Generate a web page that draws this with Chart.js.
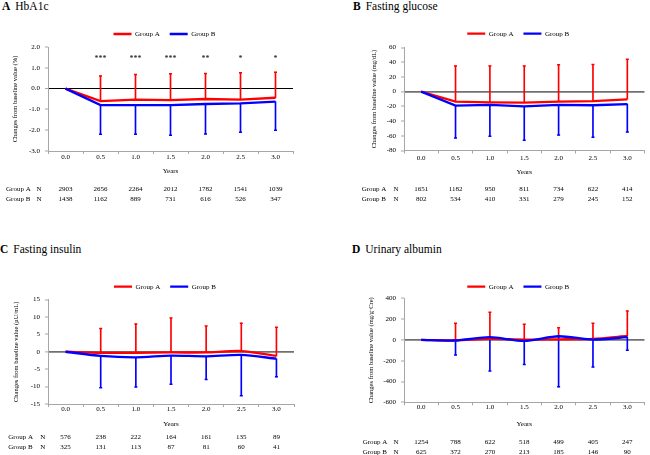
<!DOCTYPE html>
<html>
<head>
<meta charset="utf-8">
<script src="https://cdn.jsdelivr.net/npm/chart.js@4.4.0/dist/chart.umd.min.js"></script>
<style>
  body { margin:0; width:650px; height:455px; background:#fff; position:relative; overflow:hidden; font-family:"Liberation Serif", serif; }
  canvas { position:absolute; }
  .ttl { position:absolute; font-size:11.5px; line-height:12px; white-space:nowrap; color:#000; }
  .ttl b { margin-right:5px; }
</style>
</head>
<body>
<div class="ttl" style="left:2px;top:0px"><b>A</b>HbA1c</div>
<div class="ttl" style="left:353px;top:0px"><b>B</b>Fasting glucose</div>
<div class="ttl" style="left:0px;top:243px"><b>C</b>Fasting insulin</div>
<div class="ttl" style="left:352px;top:243px"><b>D</b>Urinary albumin</div>

<canvas id="chartA" width="325" height="225" style="left:0;top:0"></canvas>
<canvas id="chartB" width="325" height="225" style="left:325px;top:0"></canvas>
<canvas id="chartC" width="325" height="230" style="left:0;top:225px"></canvas>
<canvas id="chartD" width="325" height="230" style="left:325px;top:225px"></canvas>

<script>
const years = ['0.0', '0.5', '1.0', '1.5', '2.0', '2.5', '3.0'];

// A HbA1c (%)
const hba1cMeanA = [0, -0.60, -0.53, -0.55, -0.50, -0.53, -0.44];
const hba1cUpperA = [null, 0.61, 0.68, 0.71, 0.73, 0.76, 0.79];
const hba1cMeanB = [0, -0.79, -0.79, -0.79, -0.74, -0.71, -0.63];
const hba1cLowerB = [null, -2.19, -2.19, -2.24, -2.18, -2.10, -2.00];
const hba1cStars = ['', '***', '***', '***', '**', '*', '*'];
const hba1cNA = [2903, 2656, 2264, 2012, 1782, 1541, 1039];
const hba1cNB = [1438, 1162, 889, 731, 616, 526, 347];

// B Fasting glucose (mg/dL)
const glucMeanA = [0, -13.5, -14.5, -15, -13.5, -13, -10.4];
const glucUpperA = [null, 35, 35, 35, 36.5, 37, 44];
const glucMeanB = [0, -19, -18, -20, -18, -18.5, -17];
const glucLowerB = [null, -63, -60.5, -66, -59, -62, -55];
const glucNA = [1651, 1182, 950, 811, 734, 622, 414];
const glucNB = [802, 534, 410, 331, 279, 245, 152];

// C Fasting insulin (µU/mL)
const insMeanA = [0, -0.3, -0.3, -0.2, -0.2, 0.2, -1.2];
const insUpperA = [null, 6.7, 8.0, 9.7, 7.4, 8.2, 7.0];
const insMeanB = [0, -1.2, -1.6, -1.1, -1.3, -0.9, -2.0];
const insLowerB = [null, -10.3, -10.1, -9.3, -8.0, -12.6, -7.2];
const insNA = [576, 238, 222, 164, 161, 135, 89];
const insNB = [325, 131, 113, 87, 81, 60, 41];

// D Urinary albumin (mg/g·Cre)
const albMeanA = [0, -6, 10, 3, 6, 10, 38];
const albUpperA = [null, 160, 265, 150, 118, 160, 278];
const albMeanB = [0, -6, 26, -10, 35, 3, 26];
const albLowerB = [null, -144, -298, -237, -451, -260, -100];
const albNA = [1254, 788, 622, 518, 499, 405, 247];
const albNB = [625, 372, 270, 213, 185, 146, 90];

const RED = '#ff0000';
const BLUE = '#0000ff';
const AXIS = '#a6a6a6';
const SERIF = '"Liberation Serif", "Times New Roman", serif';

// legenda com altura fixa e um pouco deslocada para a esquerda
function legendFix(altura) {
    return {
        id: 'legendFix',
        beforeInit(chart) {
            const fit = chart.legend.fit;
            chart.legend.fit = function () {
                fit.call(this);
                this.height = altura;
            };
        },
        afterLayout(chart) {
            chart.legend.left -= 6;
            chart.legend.right -= 6;
        }
    };
}

// tabela de N abaixo do eixo x e asteriscos
const tabelaN = {
    id: 'tabelaN',
    afterDraw(chart, args, opts) {
        const ctx = chart.ctx;
        const x = chart.scales.x;
        const y = chart.scales.y;
        ctx.save();
        ctx.fillStyle = '#000';
        ctx.textBaseline = 'middle';
        ctx.font = '7px ' + SERIF;
        opts.rows.forEach((row) => {
            ctx.textAlign = 'left';
            ctx.fillText(row.name, opts.nameX, row.y);
            ctx.textAlign = 'center';
            ctx.fillText('N', opts.nX, row.y);
            row.values.forEach((v, i) => {
                ctx.fillText(String(v), x.getPixelForValue(i), row.y);
            });
        });
        if (opts.stars) {
            ctx.font = '8px ' + SERIF;
            ctx.textAlign = 'center';
            opts.stars.forEach((s, i) => {
                if (s) ctx.fillText(s, x.getPixelForValue(i), y.getPixelForValue(opts.starsAt) + 2);
            });
        }
        ctx.restore();
    }
};

function criarPainel(id, cfg) {
    const W = cfg.w, H = cfg.h;
    const padTop = cfg.legendY - 13.5;
    const padLeft = cfg.yTitleX - 3.9;
    const xHeight = cfg.yearsY - cfg.area.b + 4.2;

    const datasets = [
        {
            type: 'line', label: 'Group A', data: cfg.meanA,
            borderColor: RED, backgroundColor: RED, borderWidth: 2.3,
            pointRadius: 0, tension: cfg.tension, order: 2
        },
        {
            type: 'line', label: 'Group B', data: cfg.meanB,
            borderColor: BLUE, backgroundColor: BLUE, borderWidth: 2.3,
            pointRadius: 0, tension: cfg.tension, order: 1
        },
        {
            type: 'bar', label: '',
            data: cfg.meanA.map((m, i) => cfg.upperA[i] == null ? null : [m, cfg.upperA[i]]),
            backgroundColor: RED, borderWidth: 0, barThickness: 1, grouped: false, order: 4
        },
        {
            type: 'bar', label: '',
            data: cfg.meanB.map((m, i) => cfg.lowerB[i] == null ? null : [cfg.lowerB[i], m]),
            backgroundColor: BLUE, borderWidth: 0, barThickness: 1, grouped: false, order: 3
        },
        {
            type: 'line', label: '', data: cfg.upperA, showLine: false,
            pointStyle: 'line', pointRadius: 1.5, pointBorderWidth: 1.5,
            borderColor: RED, backgroundColor: RED, order: 4
        },
        {
            type: 'line', label: '', data: cfg.lowerB, showLine: false,
            pointStyle: 'line', pointRadius: 1.5, pointBorderWidth: 1.5,
            borderColor: BLUE, backgroundColor: BLUE, order: 3
        }
    ];

    new Chart(document.getElementById(id), {
        type: 'bar',
        data: { labels: years, datasets: datasets },
        plugins: [legendFix(cfg.area.t - padTop), tabelaN],
        options: {
            responsive: false,
            animation: false,
            events: [],
            layout: {
                padding: {
                    top: padTop,
                    left: padLeft,
                    right: W - cfg.area.r,
                    bottom: H - cfg.area.b - xHeight
                }
            },
            plugins: {
                tooltip: { enabled: false },
                legend: {
                    display: true,
                    position: 'top',
                    fullSize: false,
                    labels: {
                        usePointStyle: true,
                        pointStyle: 'line',
                        pointStyleWidth: 18,
                        padding: 10,
                        color: '#000',
                        font: { family: SERIF, size: 7 },
                        filter: (item) => item.text !== '',
                        sort: (a, b) => a.datasetIndex - b.datasetIndex
                    }
                },
                tabelaN: {
                    rows: [
                        { name: 'Group A', y: cfg.rowA, values: cfg.nA },
                        { name: 'Group B', y: cfg.rowB, values: cfg.nB }
                    ],
                    nameX: cfg.nameX,
                    nX: cfg.nX,
                    stars: cfg.stars || null,
                    starsAt: cfg.starsAt || 0
                }
            },
            scales: {
                x: {
                    type: 'category',
                    offset: true,
                    afterFit: (s) => { s.height = xHeight; },
                    grid: { display: true, drawOnChartArea: false, offset: true, tickLength: 3, color: AXIS },
                    border: { color: AXIS, width: 1 },
                    ticks: {
                        color: '#000', padding: cfg.area.xLab - cfg.area.b - 7.2,
                        maxRotation: 0, autoSkip: false,
                        font: { family: SERIF, size: 7 }
                    },
                    title: { display: true, text: 'Years', color: '#000', padding: 0, font: { family: SERIF, size: 7 } }
                },
                y: {
                    min: cfg.yMin,
                    max: cfg.yMax,
                    afterFit: (s) => { s.width = cfg.area.l - padLeft; },
                    grid: {
                        color: (c) => (c.tick && c.tick.value === 0) ? cfg.zeroColor : 'rgba(0,0,0,0)',
                        lineWidth: (c) => (c.tick && c.tick.value === 0) ? cfg.zeroWidth : 0,
                        tickColor: AXIS,
                        tickWidth: 1,
                        tickLength: 3
                    },
                    border: { color: AXIS, width: 1 },
                    ticks: {
                        stepSize: cfg.yStep,
                        color: '#000',
                        padding: 5,
                        font: { family: SERIF, size: 7 },
                        callback: (v) => cfg.dec ? Number(v).toFixed(1) : v
                    },
                    title: { display: true, text: cfg.yTitle, color: '#000', padding: 0, font: { family: SERIF, size: 6.5 } }
                }
            }
        }
    });
}

criarPainel('chartA', {
    w: 325, h: 225,
    area: { l: 48, r: 293, t: 47, b: 151, xLab: 157.5 },
    legendY: 34, yTitleX: 15, yearsY: 171,
    rowA: 189, rowB: 199.5, nameX: 6, nX: 39,
    meanA: hba1cMeanA, upperA: hba1cUpperA, meanB: hba1cMeanB, lowerB: hba1cLowerB,
    nA: hba1cNA, nB: hba1cNB, stars: hba1cStars, starsAt: 1.5,
    yMin: -3, yMax: 2, yStep: 1, dec: true,
    yTitle: 'Changes from baseline value (%)',
    zeroColor: '#000000', zeroWidth: 1, tension: 0
});

criarPainel('chartB', {
    w: 325, h: 225,
    area: { l: 79, r: 324, t: 47.5, b: 150.5, xLab: 157.7 },
    legendY: 33.7, yTitleX: 49.3, yearsY: 171.7,
    rowA: 189.3, rowB: 199, nameX: 36.7, nX: 71,
    meanA: glucMeanA, upperA: glucUpperA, meanB: glucMeanB, lowerB: glucLowerB,
    nA: glucNA, nB: glucNB,
    yMin: -80, yMax: 60, yStep: 20, dec: false,
    yTitle: 'Changes from baseline value (mg/dL)',
    zeroColor: '#707070', zeroWidth: 1.8, tension: 0
});

criarPainel('chartC', {
    w: 325, h: 230,
    area: { l: 48, r: 294, t: 74.5, b: 179, xLab: 184.3 },
    legendY: 61.7, yTitleX: 16.7, yearsY: 199.3,
    rowA: 212.3, rowB: 222, nameX: 8.3, nX: 42.7,
    meanA: insMeanA, upperA: insUpperA, meanB: insMeanB, lowerB: insLowerB,
    nA: insNA, nB: insNB,
    yMin: -15, yMax: 15, yStep: 5, dec: false,
    yTitle: 'Changes from baseline value (µU/mL)',
    zeroColor: '#707070', zeroWidth: 1.8, tension: 0.25
});

criarPainel('chartD', {
    w: 325, h: 230,
    area: { l: 79, r: 324, t: 73.3, b: 177.3, xLab: 182.5 },
    legendY: 61.7, yTitleX: 46, yearsY: 199.3,
    rowA: 217.3, rowB: 226.7, nameX: 37.7, nX: 71,
    meanA: albMeanA, upperA: albUpperA, meanB: albMeanB, lowerB: albLowerB,
    nA: albNA, nB: albNB,
    yMin: -600, yMax: 400, yStep: 200, dec: false,
    yTitle: 'Changes from baseline value (mg/g·Cre)',
    zeroColor: '#707070', zeroWidth: 1.8, tension: 0.25
});
</script>
</body>
</html>
